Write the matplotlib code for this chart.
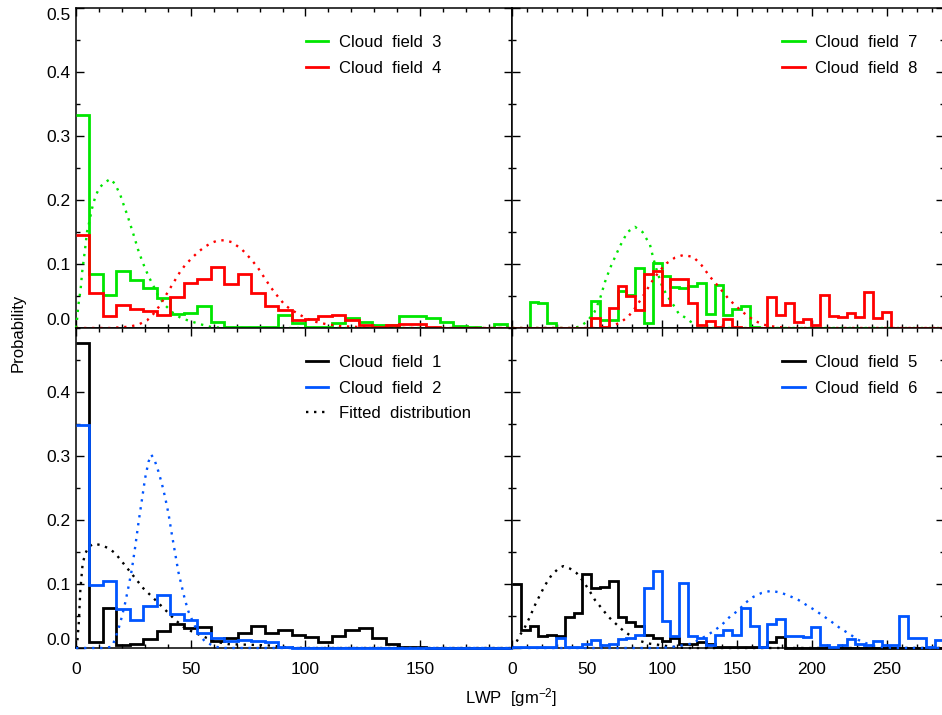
"""LWP probability distributions for eight cloud fields, with fitted curves."""

from __future__ import annotations

import matplotlib

matplotlib.use("Agg")
import matplotlib.pyplot as plt
import numpy as np
from matplotlib.lines import Line2D
from matplotlib.ticker import FixedLocator, FormatStrFormatter, MultipleLocator

plt.rcParams["font.family"] = ["Liberation Sans", "DejaVu Sans"]
plt.rcParams["mathtext.default"] = "regular"

BIN_WIDTH = 5.87  # histogram bin width, g m^-2
LEFT_XMAX = 190.0
RIGHT_XMAX = 288.0

GREEN = "#00e600"
RED = "#ff0000"
BLUE = "#0055ff"
BLACK = "#000000"

# Histogram probabilities per bin (bin i covers [i*BIN_WIDTH, (i+1)*BIN_WIDTH))
cf1 = [0.476, 0.010, 0.063, 0.004, 0.006, 0.014, 0.027, 0.038, 0.031, 0.033,
       0.011, 0.015, 0.024, 0.035, 0.024, 0.028, 0.020, 0.017, 0.010, 0.019,
       0.028, 0.032, 0.015, 0.006, 0.002, 0.001]
cf2 = [0.348, 0.098, 0.105, 0.061, 0.043, 0.066, 0.083, 0.053, 0.044, 0.023,
       0.016, 0.011, 0.0125, 0.011, 0.010, 0.002]
cf3 = [0.333, 0.085, 0.051, 0.089, 0.075, 0.063, 0.047, 0.022, 0.023, 0.035,
       0.009, 0.002, 0.001, 0.001, 0.002, 0.021, 0.008, 0.001, 0.001, 0.008,
       0.016, 0.009, 0.004, 0.004, 0.018, 0.019, 0.015, 0.010, 0.003, 0.001,
       0.0, 0.006]
cf4 = [0.146, 0.054, 0.018, 0.036, 0.029, 0.026, 0.021, 0.049, 0.071, 0.077,
       0.096, 0.068, 0.085, 0.055, 0.035, 0.028, 0.012, 0.014, 0.019, 0.021,
       0.013, 0.004, 0.002, 0.004, 0.007, 0.006, 0.001]
cf5 = [0.100, 0.028, 0.034, 0.019, 0.020, 0.019, 0.049, 0.054, 0.116, 0.093,
       0.096, 0.104, 0.049, 0.040, 0.035, 0.020, 0.015, 0.011, 0.016, 0.006,
       0.007, 0.010, 0.006, 0.001, 0.001, 0.001, 0.001, 0.001, 0.001, 0.010,
       0.017]
cf6 = [0.001, 0.001, 0.001, 0.001, 0.001, 0.015, 0.001, 0.001, 0.006, 0.0125,
       0.005, 0.006, 0.014, 0.015, 0.020, 0.093, 0.121, 0.042, 0.018, 0.102,
       0.019, 0.015, 0.005, 0.021, 0.028, 0.021, 0.063, 0.034, 0.002, 0.037,
       0.046, 0.019, 0.019, 0.017, 0.033, 0.004, 0.002, 0.004, 0.014, 0.006,
       0.004, 0.011, 0.005, 0.005, 0.050, 0.016, 0.016, 0.002, 0.0125]
cf7 = [0.0, 0.0, 0.040, 0.039, 0.008, 0.0, 0.0, 0.0, 0.0, 0.042,
       0.012, 0.012, 0.058, 0.052, 0.093, 0.008, 0.102, 0.082, 0.064, 0.063,
       0.066, 0.070, 0.022, 0.067, 0.021, 0.030, 0.034, 0.002]
cf8 = [0.0, 0.0, 0.0, 0.0, 0.0, 0.0, 0.0, 0.0, 0.0, 0.016,
       0.002, 0.032, 0.066, 0.050, 0.028, 0.085, 0.089, 0.036, 0.076, 0.076,
       0.039, 0.005, 0.011, 0.002, 0.014, 0.002, 0.0, 0.0, 0.0, 0.049,
       0.020, 0.039, 0.010, 0.014, 0.005, 0.051, 0.018, 0.017, 0.024, 0.017,
       0.056, 0.015, 0.025]

# Fitted distributions, sampled (LWP, probability)
fit1_x = [0, 0.4, 1.2, 1.9, 2.9, 4.1, 5.5, 7.7, 10.6, 14.2, 17.1, 20.7, 23.6,
          26.5, 29.4, 32.3, 36, 39.6, 43.2, 46.8, 50.4, 55.5, 60.6, 66.4, 76,
          84, 92, 100, 190]
fit1_y = [0, 0.002, 0.039, 0.091, 0.132, 0.148, 0.158, 0.163, 0.161, 0.156,
          0.148, 0.132, 0.119, 0.106, 0.093, 0.083, 0.070, 0.057, 0.044, 0.033,
          0.026, 0.018, 0.010, 0.006, 0.005, 0.004, 0.001, 0, 0]
fit2_x = [0, 12, 15.7, 17.1, 18.6, 20, 21.4, 22.9, 24.3, 25.8, 27.2, 28.7,
          30.1, 31.6, 32.8, 34.2, 35.9, 37.4, 38.8, 40.3, 41.7, 43.2, 44.6,
          46.1, 47.5, 49, 51.2, 53.3, 56.2, 60.6, 65, 190]
fit2_y = [0, 0, 0.002, 0.015, 0.031, 0.049, 0.070, 0.096, 0.122, 0.158,
          0.195, 0.231, 0.265, 0.291, 0.302, 0.294, 0.276, 0.257, 0.236, 0.210,
          0.179, 0.148, 0.119, 0.096, 0.075, 0.057, 0.039, 0.023, 0.010, 0.002,
          0, 0]
fit3_x = [0, 0.5, 1, 2, 2.7, 3.8, 4.8, 5.8, 7, 8.4, 10, 12, 15, 17, 19.3, 21,
          22.5, 24, 25.5, 27, 28.5, 30, 32, 34, 36, 39, 42.5, 46, 50.5, 54,
          58.5, 64, 190]
fit3_y = [0, 0.015, 0.035, 0.060, 0.088, 0.119, 0.150, 0.166, 0.187, 0.205,
          0.218, 0.226, 0.233, 0.225, 0.208, 0.190, 0.175, 0.158, 0.141, 0.123,
          0.108, 0.094, 0.078, 0.064, 0.049, 0.035, 0.023, 0.015, 0.010, 0.006,
          0.002, 0, 0]
fit4_x = [0, 15, 23, 27, 31, 34, 36.7, 38.8, 41, 43.2, 45.4, 47.5, 50.4, 53.3,
          56.2, 59, 62, 65, 68, 70.7, 72.5, 76.4, 79.3, 82.2, 85, 88, 91, 94,
          97.4, 100.3, 104, 109, 115, 121, 130, 190]
fit4_y = [0, 0, 0.002, 0.005, 0.012, 0.023, 0.036, 0.049, 0.062, 0.075, 0.088,
          0.098, 0.109, 0.119, 0.127, 0.133, 0.137, 0.137, 0.134, 0.127, 0.122,
          0.107, 0.094, 0.078, 0.063, 0.049, 0.036, 0.028, 0.021, 0.015, 0.010,
          0.006, 0.003, 0.002, 0, 0]
fit5_x = [0, 2, 5.3, 8.7, 12, 15.3, 18.7, 22, 26.4, 30.9, 34.2, 38.7, 43.1,
          47.6, 52, 55.3, 59.8, 64.2, 68.7, 74.2, 79.8, 85.3, 90.9, 97.6, 106.4,
          115, 288]
fit5_y = [0, 0.005, 0.020, 0.033, 0.049, 0.067, 0.083, 0.098, 0.114, 0.124,
          0.128, 0.124, 0.117, 0.104, 0.088, 0.075, 0.062, 0.049, 0.039, 0.027,
          0.018, 0.011, 0.007, 0.005, 0.002, 0, 0]
fit6_x = [0, 95, 105, 111, 120, 128.7, 134.2, 139.8, 145.3, 151, 155.3, 161,
          166.4, 173, 179.8, 185.3, 191, 196.4, 202, 207.6, 213, 218.7, 224.2,
          231, 237.6, 244, 255, 288]
fit6_y = [0, 0, 0.001, 0.003, 0.007, 0.018, 0.026, 0.036, 0.049, 0.059, 0.070,
          0.080, 0.086, 0.0895, 0.086, 0.081, 0.075, 0.067, 0.059, 0.050, 0.041,
          0.031, 0.023, 0.0125, 0.006, 0.002, 0, 0]
fit7_x = [0, 40, 45, 50, 55, 58.7, 62, 65.3, 68.7, 72, 77, 82, 87, 92, 94.2,
          96.4, 99.8, 103, 107.6, 111, 115, 119, 125, 132, 288]
fit7_y = [0, 0, 0.002, 0.010, 0.025, 0.046, 0.072, 0.093, 0.111, 0.128, 0.150,
          0.158, 0.150, 0.130, 0.109, 0.091, 0.067, 0.052, 0.036, 0.023, 0.017,
          0.010, 0.002, 0, 0]
fit8_x = [0, 55, 62, 67, 72, 77.6, 83, 88.7, 94.2, 98.7, 103, 108.7, 114.2,
          120.9, 126.4, 132, 137.6, 144.2, 149.8, 156.4, 162, 168, 175, 185, 288]
fit8_y = [0, 0, 0.002, 0.004, 0.008, 0.018, 0.034, 0.055, 0.076, 0.090, 0.101,
          0.110, 0.114, 0.111, 0.098, 0.080, 0.065, 0.046, 0.033, 0.020, 0.011,
          0.005, 0.002, 0, 0]

HIST_LW = 2.0
FIT_STYLE = dict(linestyle=(0, (1, 2.4)), linewidth=1.7)


def _binned(values: list[float], xmax: float) -> tuple[np.ndarray, np.ndarray]:
    n_bins = int(np.ceil(xmax / BIN_WIDTH))
    padded = np.zeros(n_bins)
    padded[: len(values)] = values
    edges = np.minimum(np.arange(n_bins + 1) * BIN_WIDTH, xmax)
    return padded, edges


def _draw_field(ax, values, fit_x, fit_y, color, xmax) -> None:
    probs, edges = _binned(values, xmax)
    ax.stairs(probs, edges, baseline=None, color=color, linewidth=HIST_LW,
              zorder=3, clip_on=False)
    ax.plot(fit_x, fit_y, color=color, zorder=3, clip_on=False, **FIT_STYLE)


def _style_axes(ax, xmax, yticks, show_xlabels, show_ylabels) -> None:
    ax.set_xlim(0, xmax)
    ax.set_ylim(0, 0.5)
    ax.xaxis.set_major_locator(MultipleLocator(50))
    ax.xaxis.set_minor_locator(MultipleLocator(10))
    ax.yaxis.set_major_locator(FixedLocator(yticks))
    ax.yaxis.set_minor_locator(MultipleLocator(0.05))
    ax.yaxis.set_major_formatter(FormatStrFormatter("%.1f"))
    ax.tick_params(which="both", direction="in", top=True, right=True,
                   width=1.0, labelsize=12.5, color="black")
    ax.tick_params(which="major", length=6)
    ax.tick_params(which="minor", length=3.2)
    ax.tick_params(axis="x", pad=10, labelbottom=show_xlabels)
    ax.tick_params(axis="y", pad=4, labelleft=show_ylabels)
    for spine in ax.spines.values():
        spine.set_linewidth(1.1)
    if show_ylabels:
        ticks = ax.yaxis.get_major_ticks()
        ticks[0].label1.set_verticalalignment("bottom")
        if yticks[-1] >= 0.5:
            ticks[-1].label1.set_verticalalignment("top")


def _legend(ax, entries, x0) -> None:
    handles = [
        Line2D([], [], color=color, linewidth=HIST_LW)
        if style == "solid"
        else Line2D([], [], color=color, **FIT_STYLE)
        for _, color, style in entries
    ]
    labels = [label for label, _, _ in entries]
    ax.legend(handles, labels, loc="upper left", bbox_to_anchor=(x0, 0.915),
              frameon=False, fontsize=12, handlelength=1.35,
              handletextpad=0.65, labelspacing=0.63, borderpad=0,
              borderaxespad=0)


fig = plt.figure(figsize=(9.42, 7.15), dpi=100)
left_x, left_w = 76 / 942, 436 / 942
right_x, right_w = 512 / 942, 432 / 942
top_y, bot_y, row_h = 387 / 715, 67 / 715, 320 / 715

ax_tl = fig.add_axes([left_x, top_y, left_w, row_h])
ax_tr = fig.add_axes([right_x, top_y, right_w, row_h])
ax_bl = fig.add_axes([left_x, bot_y, left_w, row_h])
ax_br = fig.add_axes([right_x, bot_y, right_w, row_h])

top_ticks = [0.0, 0.1, 0.2, 0.3, 0.4, 0.5]
bot_ticks = [0.0, 0.1, 0.2, 0.3, 0.4]

_draw_field(ax_tl, cf3, fit3_x, fit3_y, GREEN, LEFT_XMAX)
_draw_field(ax_tl, cf4, fit4_x, fit4_y, RED, LEFT_XMAX)
_style_axes(ax_tl, LEFT_XMAX, top_ticks, False, True)
_legend(ax_tl, [("Cloud  field  3", GREEN, "solid"),
                ("Cloud  field  4", RED, "solid")], 0.5275)

_draw_field(ax_tr, cf7, fit7_x, fit7_y, GREEN, RIGHT_XMAX)
_draw_field(ax_tr, cf8, fit8_x, fit8_y, RED, RIGHT_XMAX)
_style_axes(ax_tr, RIGHT_XMAX, top_ticks, False, False)
_legend(ax_tr, [("Cloud  field  7", GREEN, "solid"),
                ("Cloud  field  8", RED, "solid")], 0.625)

_draw_field(ax_bl, cf1, fit1_x, fit1_y, BLACK, LEFT_XMAX)
_draw_field(ax_bl, cf2, fit2_x, fit2_y, BLUE, LEFT_XMAX)
_style_axes(ax_bl, LEFT_XMAX, bot_ticks, True, True)
_legend(ax_bl, [("Cloud  field  1", BLACK, "solid"),
                ("Cloud  field  2", BLUE, "solid"),
                ("Fitted  distribution", BLACK, "dotted")], 0.5275)

_draw_field(ax_br, cf5, fit5_x, fit5_y, BLACK, RIGHT_XMAX)
_draw_field(ax_br, cf6, fit6_x, fit6_y, BLUE, RIGHT_XMAX)
_style_axes(ax_br, RIGHT_XMAX, bot_ticks, True, False)
_legend(ax_br, [("Cloud  field  5", BLACK, "solid"),
                ("Cloud  field  6", BLUE, "solid")], 0.625)

fig.text(511 / 942, 1 - 698 / 715, "LWP  [gm$^{-2}$]", ha="center",
         va="center", fontsize=12)
fig.text(18 / 942, 1 - 333 / 715, "Probability", rotation=90, ha="center",
         va="center", fontsize=12)

fig.savefig("out.png", dpi=100)
plt.close(fig)
